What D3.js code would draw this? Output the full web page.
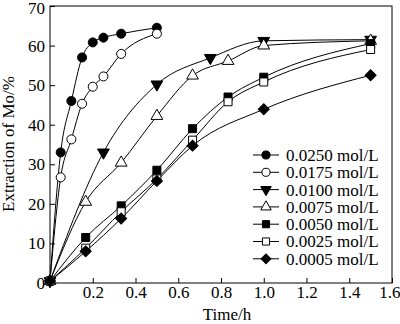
<!DOCTYPE html>
<html><head><meta charset="utf-8">
<script src="https://cdn.jsdelivr.net/npm/d3@7"></script>
<style>body{margin:0;background:#fff}svg{display:block}</style>
</head><body><svg id="c" width="400" height="324"></svg>
<script>
const tFast = [0, 0.05, 0.1, 0.15, 0.2, 0.25, 0.333, 0.5];
const tMid = [0, 0.25, 0.5, 0.75, 1.0, 1.5];
const tSlow = [0, 0.167, 0.333, 0.5, 0.667, 0.833, 1.0, 1.5];
const tDia = [0, 0.167, 0.333, 0.5, 0.667, 1.0, 1.5];
const labels = ["0.0250 mol/L","0.0175 mol/L","0.0100 mol/L","0.0075 mol/L","0.0050 mol/L","0.0025 mol/L","0.0005 mol/L"];
const v0250 = [0.5, 33, 46, 57, 60.8, 62, 63, 64.5];
const v0175 = [0.5, 26.7, 36.3, 45.3, 49.6, 52.2, 57.9, 63];
const v0100 = [0.5, 33, 50.2, 56.9, 61.2, 61.5];
const v0075 = [0.5, 20.5, 30.4, 42.2, 52.4, 56.1, 60, 61.2];
const v0050 = [0.5, 11.5, 19.5, 28.5, 39, 47, 52, 60.5];
const v0025 = [0.5, 8.8, 18, 26.3, 36.1, 45.8, 50.8, 59];
const v0005 = [0.5, 8, 16.3, 25.8, 34.7, 43.9, 52.5];
const xTicks = [0.2, 0.4, 0.6, 0.8, 1.0, 1.2, 1.4, 1.6];
const yTicks = [0, 10, 20, 30, 40, 50, 60, 70];

const series = [
  {t: tFast, v: v0250, sym: d3.symbolCircle, fill: "#000", rot: 0, size: 64},
  {t: tFast, v: v0175, sym: d3.symbolCircle, fill: "#fff", rot: 0, size: 64},
  {t: tMid,  v: v0100, sym: d3.symbolTriangle, fill: "#000", rot: 180, size: 60},
  {t: tSlow, v: v0075, sym: d3.symbolTriangle, fill: "#fff", rot: 0, size: 60},
  {t: tSlow, v: v0050, sym: d3.symbolSquare, fill: "#000", rot: 0, size: 64},
  {t: tSlow, v: v0025, sym: d3.symbolSquare, fill: "#fff", rot: 0, size: 64},
  {t: tDia,  v: v0005, sym: d3.symbolSquare, fill: "#000", rot: 45, size: 60}
];

const svg = d3.select("#c");
const font = "'Liberation Serif','Times New Roman',serif";
const x = d3.scaleLinear().domain([0, 1.6]).range([50, 392]);
const y = d3.scaleLinear().domain([0, 70]).range([283, 6]);

// frame
svg.append("rect").attr("x", 50).attr("y", 6).attr("width", 342).attr("height", 277)
  .attr("fill", "none").attr("stroke", "#000").attr("stroke-width", 1);

const xAxis = svg.append("g").attr("transform", "translate(0,283)")
  .call(d3.axisBottom(x).tickValues(xTicks).tickSize(-5).tickPadding(3).tickFormat(d3.format(".1f")));
const yAxis = svg.append("g").attr("transform", "translate(50,0)")
  .call(d3.axisLeft(y).tickValues(yTicks).tickSize(-5).tickPadding(5).tickFormat(d3.format("d")));
[xAxis, yAxis].forEach(g => {
  g.attr("font-family", font).attr("font-size", 17);
  g.select(".domain").remove();
  g.selectAll("line").attr("stroke", "#000");
  g.selectAll("text").attr("font-family", font).attr("font-size", 17).attr("fill", "#000");
});
xAxis.selectAll(".tick text").filter(d => d === 1.6).attr("text-anchor", "end").attr("x", 8);
yAxis.selectAll(".tick text").filter(d => d === 70).attr("dy", "0.45em");

svg.append("text").attr("x", 227).attr("y", 320).attr("text-anchor", "middle")
  .attr("font-family", font).attr("font-size", 17).text("Time/h");
svg.append("text").attr("transform", "translate(14,144) rotate(-90)").attr("text-anchor", "middle")
  .attr("font-family", font).attr("font-size", 17).text("Extraction of Mo/%");

const line = d3.line().curve(d3.curveMonotoneX).x(d => x(d[0])).y(d => y(d[1]));
series.forEach(s => {
  const pts = s.t.map((t, i) => [t, s.v[i]]);
  svg.append("path").datum(pts).attr("d", line).attr("fill", "none").attr("stroke", "#000").attr("stroke-width", 1);
});
series.forEach(s => {
  const pts = s.t.map((t, i) => [t, s.v[i]]);
  svg.append("g").selectAll("path").data(pts).join("path")
    .attr("d", d3.symbol().type(s.sym).size(s.size))
    .attr("transform", d => `translate(${x(d[0])},${y(d[1])}) rotate(${s.rot})`)
    .attr("fill", s.fill).attr("stroke", "#000").attr("stroke-width", 1);
});

// legend
const lg = svg.append("g");
series.forEach((s, i) => {
  const yy = 155 + i * 17.3;
  lg.append("line").attr("x1", 253).attr("x2", 279).attr("y1", yy).attr("y2", yy).attr("stroke", "#000");
  lg.append("path").attr("d", d3.symbol().type(s.sym).size(s.size * 0.8))
    .attr("transform", `translate(266,${yy}) rotate(${s.rot})`)
    .attr("fill", s.fill).attr("stroke", "#000");
  lg.append("text").attr("x", 286).attr("y", yy).attr("dy", "0.35em")
    .attr("font-family", font).attr("font-size", 17).text(labels[i]);
});
</script></body></html>
